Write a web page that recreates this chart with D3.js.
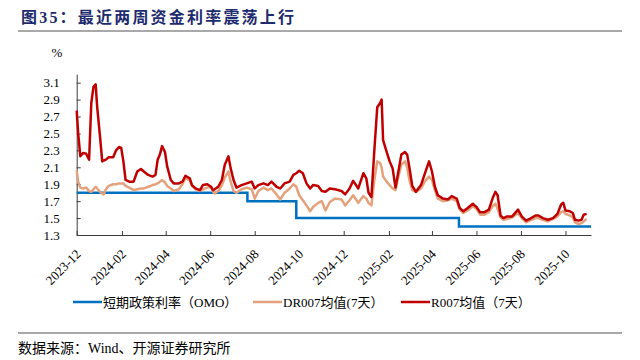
<!DOCTYPE html>
<html>
<head>
<meta charset="utf-8">
<script src="https://cdn.jsdelivr.net/npm/d3@7"></script>
<style>
  body { margin: 0; background: #fff; }
  svg { display: block; }
  text { font-family: "Liberation Serif", "Times New Roman", "Noto Sans CJK SC", serif; fill: #000; }
</style>
</head>
<body>
<div id="chart"></div>
<script>
// sample dates, shared by DR007 and R007
const dates = [
  "2023-12-01","2023-12-03","2023-12-06","2023-12-10","2023-12-14","2023-12-18","2023-12-21","2023-12-24","2023-12-27","2023-12-29",
  "2024-01-02","2024-01-05","2024-01-07","2024-01-10","2024-01-14","2024-01-20","2024-01-24","2024-01-28","2024-01-31",
  "2024-02-03","2024-02-06","2024-02-11","2024-02-17","2024-02-22","2024-02-27",
  "2024-03-02","2024-03-08","2024-03-14","2024-03-18","2024-03-21","2024-03-24","2024-03-27","2024-03-31",
  "2024-04-03","2024-04-08","2024-04-12","2024-04-19","2024-04-24","2024-04-28",
  "2024-05-04","2024-05-07","2024-05-12","2024-05-18","2024-05-22","2024-05-28",
  "2024-06-02","2024-06-05","2024-06-07","2024-06-12","2024-06-17","2024-06-21","2024-06-26","2024-06-29",
  "2024-07-03","2024-07-07","2024-07-14","2024-07-21","2024-07-28",
  "2024-08-01","2024-08-06","2024-08-13","2024-08-19","2024-08-24","2024-08-31",
  "2024-09-05","2024-09-11","2024-09-18","2024-09-23","2024-09-27",
  "2024-10-01","2024-10-06","2024-10-11","2024-10-16","2024-10-20","2024-10-27",
  "2024-11-01","2024-11-06","2024-11-12","2024-11-19","2024-11-28",
  "2024-12-03","2024-12-09","2024-12-14","2024-12-21","2024-12-28",
  "2025-01-01","2025-01-04","2025-01-08","2025-01-12","2025-01-16","2025-01-20","2025-01-22","2025-01-24","2025-01-29",
  "2025-02-02","2025-02-06","2025-02-10","2025-02-14","2025-02-18","2025-02-23","2025-02-26",
  "2025-03-01","2025-03-05","2025-03-10","2025-03-17","2025-03-22","2025-03-28",
  "2025-04-01","2025-04-05","2025-04-09","2025-04-16","2025-04-23","2025-04-28",
  "2025-05-05","2025-05-09","2025-05-14","2025-05-20","2025-05-27",
  "2025-06-01","2025-06-06","2025-06-12","2025-06-18","2025-06-23","2025-06-27","2025-06-30",
  "2025-07-04","2025-07-08","2025-07-13","2025-07-20","2025-07-25","2025-07-28",
  "2025-08-02","2025-08-08","2025-08-13","2025-08-21","2025-08-25","2025-08-31",
  "2025-09-07","2025-09-14","2025-09-20","2025-09-25","2025-09-28",
  "2025-10-01","2025-10-07","2025-10-11","2025-10-14","2025-10-19","2025-10-23","2025-10-26","2025-10-30"
];

const dr007 = [
  2.06,1.93,1.86,1.85,1.86,1.82,1.81,1.84,1.87,1.85,
  1.81,1.79,1.78,1.84,1.88,1.90,1.90,1.91,1.91,
  1.91,1.88,1.86,1.83,1.84,1.85,
  1.85,1.87,1.89,1.90,1.91,1.93,1.95,1.92,
  1.88,1.85,1.82,1.84,1.90,1.97,
  1.95,1.88,1.84,1.82,1.84,1.86,
  1.87,1.81,1.79,1.82,1.89,1.98,2.05,1.93,
  1.82,1.80,1.84,1.86,1.84,
  1.73,1.82,1.86,1.83,1.85,1.78,
  1.72,1.80,1.85,1.90,1.87,
  1.77,1.71,1.65,1.58,1.63,1.68,
  1.70,1.59,1.69,1.73,1.72,
  1.65,1.71,1.77,1.68,1.76,
  1.73,1.68,1.65,1.95,2.17,2.15,2.10,1.99,1.93,
  1.89,1.85,1.83,1.99,2.13,2.17,2.10,
  1.95,1.83,1.81,1.85,1.93,1.99,
  1.95,1.83,1.73,1.70,1.71,1.73,
  1.70,1.60,1.56,1.59,1.64,
  1.61,1.54,1.54,1.57,1.64,1.67,1.61,
  1.51,1.48,1.49,1.51,1.54,1.56,
  1.50,1.45,1.47,1.50,1.50,1.48,
  1.46,1.49,1.52,1.57,1.58,
  1.55,1.53,1.51,1.45,1.43,1.44,1.46,1.49
];

const r007 = [
  2.77,2.50,2.23,2.27,2.26,2.19,2.86,3.05,3.08,2.82,
  2.46,2.17,2.18,2.19,2.22,2.22,2.30,2.34,2.33,
  2.17,1.95,1.93,1.93,2.05,2.08,
  2.05,2.01,1.99,2.01,2.19,2.25,2.35,2.28,
  2.11,1.95,1.91,1.91,1.93,2.00,
  1.97,1.89,1.85,1.83,1.89,1.90,
  1.87,1.83,1.84,1.87,1.95,2.13,2.23,2.09,
  1.95,1.86,1.89,1.91,1.93,
  1.85,1.89,1.91,1.89,1.93,1.87,
  1.85,1.91,1.93,2.01,2.03,
  2.06,2.03,1.91,1.85,1.89,1.88,
  1.82,1.81,1.85,1.84,1.82,
  1.78,1.85,1.94,1.85,2.03,
  1.97,1.80,1.75,2.30,2.81,2.86,2.90,2.42,2.28,
  2.17,2.09,1.86,2.05,2.25,2.28,2.25,
  2.10,1.88,1.81,1.89,2.02,2.17,
  2.05,1.87,1.77,1.73,1.72,1.76,
  1.73,1.62,1.58,1.62,1.67,
  1.63,1.57,1.57,1.60,1.73,1.81,1.77,
  1.53,1.50,1.52,1.52,1.57,1.60,
  1.52,1.47,1.49,1.53,1.53,1.50,
  1.48,1.50,1.55,1.66,1.68,
  1.59,1.58,1.56,1.48,1.47,1.48,1.54,1.55
];

// OMO 7-day reverse repo rate, change dates
const omoDates = ["2023-12-01", "2024-07-22", "2024-09-27", "2025-05-08", "2025-11-05"];
const omoRates = [1.8, 1.7, 1.5, 1.4, 1.4];

const xTickLabels = ["2023-12","2024-02","2024-04","2024-06","2024-08","2024-10","2024-12","2025-02","2025-04","2025-06","2025-08","2025-10"];
const yTicks = [1.3, 1.5, 1.7, 1.9, 2.1, 2.3, 2.5, 2.7, 2.9, 3.1];
const seriesNames = ["短期政策利率（OMO）", "DR007均值(7天）", "R007均值（7天）"];
const seriesColors = ["#0070C0", "#E4A27C", "#C00000"];

const W = 640, H = 360;
const parseDay = d3.timeParse("%Y-%m-%d");
const parseMonth = d3.timeParse("%Y-%m");

const svg = d3.select("#chart").append("svg")
  .attr("width", W)
  .attr("height", H);

// title
svg.append("text")
  .attr("x", 21)
  .attr("y", 23)
  .style("font-size", "16px")
  .style("font-weight", "bold")
  .style("letter-spacing", "2.2px")
  .style("fill", "#1E2B6E")
  .text("图35：最近两周资金利率震荡上行");

svg.append("line")
  .attr("x1", 18).attr("x2", 622)
  .attr("y1", 31).attr("y2", 31)
  .attr("stroke", "#8c8c8c")
  .attr("stroke-width", 1.5);

const x = d3.scaleTime()
  .domain([parseDay("2023-12-01"), parseDay("2025-11-05")])
  .range([76.7, 591]);

const y = d3.scaleLinear()
  .domain([1.3, 3.2])
  .range([235, 74.2]);

svg.append("text")
  .attr("x", 57)
  .attr("y", 57)
  .attr("text-anchor", "middle")
  .style("font-size", "13px")
  .text("%");

// axes
const yAxis = svg.append("g")
  .attr("transform", "translate(76.7,0)")
  .call(d3.axisLeft(y)
    .tickValues(yTicks)
    .tickSize(-4)
    .tickSizeOuter(0)
    .tickPadding(17)
    .tickFormat(d3.format(".1f")));

const xAxis = svg.append("g")
  .attr("transform", "translate(0,235)")
  .call(d3.axisBottom(x)
    .tickValues(xTickLabels.map(parseMonth))
    .tickSize(-4)
    .tickSizeOuter(0)
    .tickFormat(d3.timeFormat("%Y-%m")));

xAxis.selectAll(".tick text")
  .attr("x", 0)
  .attr("y", 0)
  .attr("dy", null)
  .attr("text-anchor", "end")
  .attr("transform", "translate(4.5,20) rotate(-45)");

[yAxis, xAxis].forEach(g => {
  g.selectAll("path, line").attr("stroke", "#3c3c3c").attr("stroke-width", 1);
  g.selectAll("text").style("font-size", "13px").attr("fill", "#000")
    .style("font-family", '"Liberation Serif", "Times New Roman", serif');
});

// lines
const omo = omoDates.map((d, i) => ({ date: parseDay(d), v: omoRates[i] }));
const dr = dates.map((d, i) => ({ date: parseDay(d), v: dr007[i] }));
const r = dates.map((d, i) => ({ date: parseDay(d), v: r007[i] }));

const line = d3.line().x(d => x(d.date)).y(d => y(d.v));

svg.append("path")
  .datum(omo)
  .attr("d", line.curve(d3.curveStepAfter))
  .attr("fill", "none")
  .attr("stroke", seriesColors[0])
  .attr("stroke-width", 2.5);

line.curve(d3.curveLinear);

[dr, r].forEach((s, i) => {
  svg.append("path")
    .datum(s)
    .attr("d", line)
    .attr("fill", "none")
    .attr("stroke", seriesColors[i + 1])
    .attr("stroke-width", 2.5)
    .attr("stroke-linejoin", "round");
});

// legend
const legendX = [73, 253, 401];
const legend = svg.append("g");
seriesNames.forEach((name, i) => {
  legend.append("line")
    .attr("x1", legendX[i]).attr("x2", legendX[i] + 29)
    .attr("y1", 302).attr("y2", 302)
    .attr("stroke", seriesColors[i])
    .attr("stroke-width", 2.5);
  legend.append("text")
    .attr("x", legendX[i] + 30)
    .attr("y", 302)
    .attr("dy", "0.35em")
    .style("font-size", "13px")
    .text(name);
});

// source
svg.append("line")
  .attr("x1", 18).attr("x2", 622)
  .attr("y1", 333).attr("y2", 333)
  .attr("stroke", "#8c8c8c")
  .attr("stroke-width", 1.5);

svg.append("text")
  .attr("x", 18)
  .attr("y", 353)
  .style("font-size", "14px")
  .text("数据来源：Wind、开源证券研究所");
</script>
</body>
</html>
